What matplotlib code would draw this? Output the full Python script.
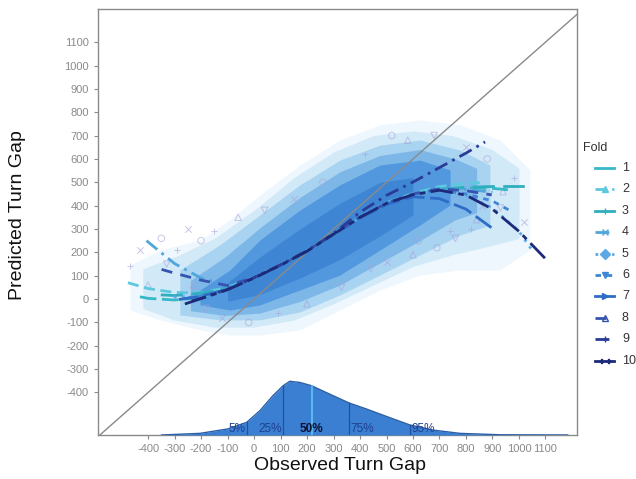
import numpy as np
import matplotlib
matplotlib.use("Agg")
import matplotlib.pyplot as plt
from matplotlib.lines import Line2D

plt.rcParams['font.family'] = ['Liberation Sans', 'DejaVu Sans']
plt.rcParams['axes.unicode_minus'] = False

# ---------------- data ----------------
tick_values = list(range(-400, 1200, 100))
fold_labels = [str(i) for i in range(1, 11)]

fold1_x = [-431, -400, -300, -200, -100, 0, 100, 200, 300, 400, 500, 600, 700, 800, 900, 958]
fold1_y = [10, 3, -4, 6, 42, 90, 145, 205, 278, 350, 410, 448, 468, 476, 474, 468]
fold2_x = [-476, -400, -300, -200, -100, 0, 100, 200, 300, 400, 500, 600, 700, 800, 852]
fold2_y = [70, 45, 28, 27, 50, 92, 147, 207, 280, 352, 413, 452, 482, 495, 498]
fold3_x = [-352, -300, -200, -100, 0, 100, 200, 300, 400, 500, 600, 700, 800, 900, 1022]
fold3_y = [18, 15, 25, 46, 90, 145, 205, 278, 350, 410, 447, 468, 479, 482, 482]
fold4_x = [-406, -300, -200, -100, 0, 100, 200, 300, 400, 500, 600, 700, 800, 900]
fold4_y = [250, 152, 90, 58, 92, 145, 205, 278, 350, 410, 447, 467, 470, 458]
fold5_x = [-303, -200, -100, 0, 100, 200, 300, 400, 500, 600, 700, 800, 900, 1000, 1054]
fold5_y = [8, 15, 42, 90, 145, 205, 278, 350, 410, 447, 463, 445, 390, 290, 202]
fold6_x = [-254, -200, -100, 0, 100, 200, 300, 400, 500, 600, 700, 800, 900, 972]
fold6_y = [3, 12, 42, 90, 145, 205, 278, 350, 410, 447, 466, 450, 420, 375]
fold7_x = [-284, -200, -100, 0, 100, 200, 300, 400, 500, 600, 700, 800, 909]
fold7_y = [-2, 13, 42, 90, 144, 204, 276, 347, 405, 438, 430, 385, 295]
fold8_x = [-349, -300, -200, -100, 0, 100, 200, 300, 400, 500, 600, 700, 800, 897]
fold8_y = [127, 111, 81, 58, 92, 146, 206, 279, 351, 411, 450, 472, 464, 446]
fold9_x = [-235, -200, -100, 0, 100, 200, 300, 400, 500, 600, 700, 800, 872]
fold9_y = [-7, 3, 42, 92, 147, 207, 280, 372, 444, 501, 563, 625, 673]
fold10_x = [-261, -200, -100, 0, 100, 200, 300, 400, 500, 600, 700, 800, 900, 1000, 1098]
fold10_y = [-21, 2, 40, 90, 145, 205, 278, 350, 410, 447, 466, 445, 385, 290, 175]

# scatter cloud envelopes, outermost (sparse) to innermost (dense)
cloud1_x = [-468, -355, -204, -91, 22, 173, 324, 475, 626, 777, 928, 1041]
cloud1_lo = [-47, -89, -132, -154, -154, -132, -47, 39, 103, 125, 125, 210]
cloud1_hi = [146, 210, 253, 339, 446, 574, 681, 746, 767, 746, 681, 553]
cloud2_x = [-420, -300, -150, 0, 150, 300, 450, 600, 750, 900, 1000]
cloud2_lo = [-40, -90, -120, -120, -90, -20, 60, 140, 190, 230, 260]
cloud2_hi = [130, 180, 260, 380, 520, 630, 700, 720, 700, 640, 560]
cloud3_x = [-280, -129, 22, 173, 324, 475, 626, 777, 890]
cloud3_lo = [-68, -89, -89, -55, 18, 103, 189, 274, 317]
cloud3_hi = [125, 232, 360, 489, 595, 659, 681, 638, 574]
cloud4_x = [-240, -110, 22, 173, 324, 475, 626, 760, 840]
cloud4_lo = [-50, -70, -60, -10, 60, 155, 250, 340, 370]
cloud4_hi = [80, 180, 305, 435, 545, 615, 640, 600, 560]
cloud5_x = [-204, -91, 22, 173, 324, 475, 626, 740]
cloud5_lo = [-25, -47, -25, 39, 103, 210, 317, 403]
cloud5_hi = [39, 125, 253, 381, 489, 574, 595, 553]
cloud6_x = [-100, 22, 173, 324, 475, 600]
cloud6_lo = [-10, 20, 90, 170, 270, 360]
cloud6_hi = [70, 180, 300, 410, 500, 520]

# sparse outlying points
out_x = [-470, -430, -400, -350, -330, -290, -250, -230, -200, -180, -150, -120, -60, -20, 40,
         90, 150, 200, 260, 330, 420, 500, 580, 620, 680, 740, 800, 840, 880, 930, 980, 1020,
         600, 690, 760, 820, 860, 940, 520, 440]
out_y = [140, 210, 60, 260, 150, 210, 300, 60, 250, -40, 290, -80, 350, -100, 380,
         -60, 430, -20, 500, 50, 620, 160, 680, 250, 700, 290, 650, 340, 600, 390, 520, 330,
         190, 220, 260, 300, 400, 460, 700, 130]

# observed-gap density (heights above the axis floor)
dens_x = [-349, -204, -99, -28, 22, 71, 110, 135, 173, 217, 299, 359, 425, 525, 588, 676, 777, 928, 1184]
dens_h = [0, 7, 26, 54, 104, 168, 211, 230, 225, 211, 168, 137, 111, 69, 43, 21, 7, 1, 0]
pct_labels = ['5%', '25%', '50%', '75%', '95%']
pct_values = [-28, 110, 217, 359, 588]

# ---------------- styles ----------------
fold_x = [fold1_x, fold2_x, fold3_x, fold4_x, fold5_x, fold6_x, fold7_x, fold8_x, fold9_x, fold10_x]
fold_y = [fold1_y, fold2_y, fold3_y, fold4_y, fold5_y, fold6_y, fold7_y, fold8_y, fold9_y, fold10_y]
colors = ['#36b8c9', '#5ec8df', '#30aebd', '#4fa6da', '#5aa9e6',
          '#3f86d6', '#2f6cc6', '#3653b0', '#2a3c96', '#1d2a7a']
dashes = [(0, (6, 2)), (0, (4, 2)), (0, (8, 3)), (0, (5, 2, 1, 2)), (0, (1, 2)),
          (0, (2, 2)), (0, (7, 2)), (0, (4, 3)), (0, (5, 2, 1, 2)), (0, (8, 2, 2, 2))]
markers = [None, '^', '|', 'x', 'D', 'v', '>', '^', '+', '$++$']

XLIM = (-589, 1219)
YLIM = (-582, 1242)

fig = plt.figure(figsize=(6.36, 4.79), dpi=100)
ax = fig.add_axes([98 / 636, 44 / 479, 479 / 636, 426 / 479])
ax.set_xlim(*XLIM)
ax.set_ylim(*YLIM)

# cloud
cloud_layers = [(cloud1_x, cloud1_lo, cloud1_hi, '#eef7fd'),
                (cloud2_x, cloud2_lo, cloud2_hi, '#d2e9f8'),
                (cloud3_x, cloud3_lo, cloud3_hi, '#a8d3f1'),
                (cloud4_x, cloud4_lo, cloud4_hi, '#7db7e8'),
                (cloud5_x, cloud5_lo, cloud5_hi, '#5298de'),
                (cloud6_x, cloud6_lo, cloud6_hi, '#3e86d3')]
for cx, lo, hi, c in cloud_layers:
    ax.fill_between(cx, lo, hi, color=c, lw=0, zorder=1)
mk_cycle = ['+', 'x', '^', 'o', 'v']
for i, (px, py) in enumerate(zip(out_x, out_y)):
    m = mk_cycle[i % 5]
    ax.scatter([px], [py], marker=m, s=22, linewidths=0.7,
               facecolors='none' if m in ('^', 'o', 'v') else '#a9a3d8',
               edgecolors='#a9a3d8', alpha=0.6, zorder=2)

# diagonal
ax.axline((0, 0), (1, 1), color='#8a8a8a', lw=1, zorder=3)

# density
base = YLIM[0]
dens_top = [base + h for h in dens_h]
ax.fill_between(dens_x, base, dens_top, color='#3a7fd1', lw=0, zorder=4)
ax.plot(dens_x, dens_top, color='#2a5fa8', lw=1, zorder=5)
for lab, v in zip(pct_labels, pct_values):
    top = base + np.interp(v, dens_x, dens_h)
    lc = '#5cc4f2' if lab == '50%' else '#24509a'
    ax.plot([v, v], [base, top], color=lc, lw=1.2 if lab == '50%' else 0.9, zorder=6)
    if lab in ('5%', '25%'):
        ha, dx = 'right', -6
    elif lab == '50%':
        ha, dx = 'center', 0
    else:
        ha, dx = 'left', 6
    ax.text(v + dx, base + 27, lab, ha=ha, va='center', fontsize=8.5,
            color='#0d1030' if lab == '50%' else '#1f3f8f',
            fontweight='bold' if lab == '50%' else 'normal', zorder=7)

# fold curves
for i in range(10):
    ax.plot(fold_x[i], fold_y[i], color=colors[i], lw=2, linestyle=dashes[i], zorder=8)

# axes styling
ax.set_xticks(tick_values)
ax.set_yticks(tick_values)
ax.tick_params(colors='#8a8a8a', labelsize=8, length=3, width=0.8)
for sp in ax.spines.values():
    sp.set_color('#8a8a8a')
    sp.set_linewidth(1)

fig.text(18 / 636, 1 - 215 / 479, 'Predicted Turn Gap', rotation=90, ha='center', va='center',
         fontsize=14, color='#111111')
fig.text(340 / 636, 1 - 466 / 479, 'Observed Turn Gap', ha='center', va='center',
         fontsize=14, color='#111111')

# legend (manual)
fig.text(583 / 636, 1 - 148 / 479, 'Fold', ha='left', va='center', fontsize=9, color='#333333')
for i in range(10):
    yy = 1 - (168 + i * 21.4) / 479
    fig.add_artist(Line2D([595 / 636, 614 / 636], [yy, yy], transform=fig.transFigure,
                          color=colors[i], lw=2, linestyle=dashes[i] if i not in (0, 2, 6, 9) else '-'))
    if markers[i] is not None:
        fig.add_artist(Line2D([604.5 / 636], [yy], transform=fig.transFigure, marker=markers[i],
                              color=colors[i], markersize=5 if markers[i] != '$++$' else 8,
                              markerfacecolor='none' if i == 7 else colors[i],
                              linestyle='none'))
    fig.text(622 / 636, yy, fold_labels[i], ha='left', va='center', fontsize=9, color='#333333')

fig.savefig('out.png', dpi=100)
